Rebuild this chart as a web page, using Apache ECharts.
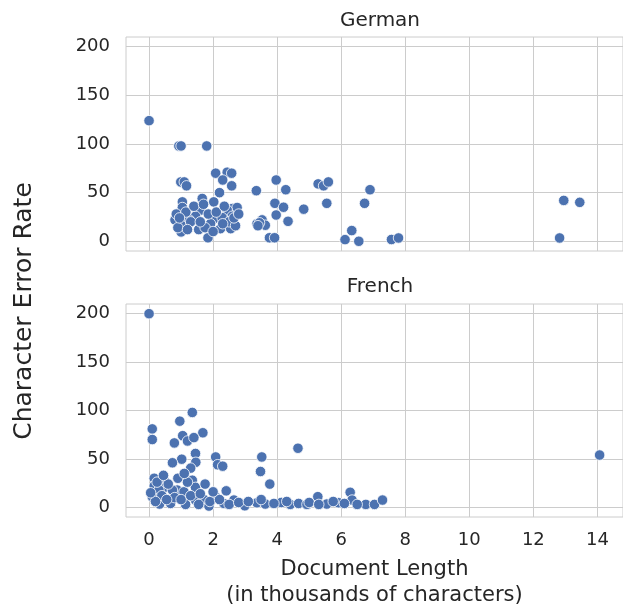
<!DOCTYPE html>
<html>
<head>
<meta charset="utf-8">
<title>Character Error Rate vs Document Length</title>
<script src="https://cdn.jsdelivr.net/npm/echarts@6.0.0/dist/echarts.min.js"></script>
<style>
    html, body { margin: 0; padding: 0; background: #ffffff; }
    #chart { width: 623px; height: 609px; }
</style>
</head>
<body>
<div id="chart"></div>
<script>
// tick labels
const xTicks = [0, 2, 4, 6, 8, 10, 12, 14];
const yTicks = [0, 50, 100, 150, 200];

// German: document length (thousands of chars) and CER
const germanLength = [
    0, 0.93, 1.0, 1.8, 2.08, 2.44, 2.58, 2.3, 2.58, 0.99, 1.1, 1.17, 2.2, 3.35, 3.97, 4.27,
    5.28, 5.45, 5.6, 6.9, 5.55, 6.73, 4.83, 3.93, 4.2, 3.97, 4.34, 3.53, 3.37, 3.63, 3.76, 3.92,
    1.84, 6.12, 6.55, 6.33, 7.57, 7.79, 12.95, 13.45, 12.82,
    1.04, 1.04, 1.66, 2.02, 1.61, 1.45, 2.02, 2.6, 2.75, 2.44, 2.6, 2.28, 0.81, 1.25, 1.0, 1.0,
    1.3, 1.92, 2.23, 2.55, 3.45, 0.85, 0.9, 1.15, 1.4, 1.7, 1.85, 2.1, 2.35, 2.5, 2.7, 1.55,
    1.75, 2.0, 1.2, 0.95, 2.65, 2.3, 1.6, 3.4, 2.8
];
const germanCER = [
    124, 98, 98, 98, 70, 71, 70, 63, 57, 61, 61, 57, 50, 52, 63, 53,
    59, 57, 61, 53, 39, 39, 33, 39, 35, 27, 20.5, 22, 18, 16.5, 3.6, 3.6,
    3.6, 1.7, 0, 11, 1.8, 3.4, 42, 40, 3.4,
    40.5, 34.7, 44, 40.5, 32, 25.7, 23, 33.6, 34.7, 32, 25.7, 24.4, 22, 22, 16.5, 9.6,
    20, 18, 13, 13, 19, 28, 14, 30, 36, 38, 28, 30, 36, 20, 16, 12,
    14, 10, 12, 24, 24, 18, 20, 16, 28
];

// French: document length (thousands of chars) and CER
const frenchLength = [
    0, 0.1, 0.1, 1.35, 0.96, 1.68, 1.05, 1.2, 1.4, 0.79, 1.45, 1.02, 0.73, 1.46, 1.3, 2.08,
    2.14, 2.3, 3.52, 3.48, 3.77, 4.65, 6.28, 6.34, 5.27, 2.41, 14.07,
    0.16, 0.47, 0.16, 0.52, 0.88, 1.35, 1.45, 1.09, 0.73, 0.31, 0.1, 0.33, 0.67, 1.14, 1.45, 1.71,
    1.87, 2.08, 2.34, 2.65, 2.99, 3.37, 3.63, 4.13, 4.41, 4.67, 4.93, 5.55, 5.92, 6.77, 7.04, 7.29,
    0.25, 0.6, 0.9, 1.2, 0.4, 0.8, 1.0, 1.3, 1.6, 1.9, 2.2, 2.5, 2.8, 3.1, 3.5, 3.9,
    4.3, 5.0, 5.3, 5.75, 6.1, 6.5, 0.2, 0.55, 1.55, 2.0, 1.75, 0.05, 0.45, 1.1
];
const frenchCER = [
    200, 81, 70, 98, 89, 77, 74, 68.5, 72, 66.5, 55.6, 49.7, 46, 46.5, 40.5, 52,
    44, 42.5, 52, 37, 24, 61, 15.5, 7.5, 11, 17, 54,
    30, 28, 22, 21, 17.8, 28, 20.6, 16, 17.8, 17.8, 11, 3.4, 4, 3, 7.5, 8.2,
    1.3, 11, 4, 7.5, 1.6, 4.7, 3.4, 5, 3, 4, 3, 3.4, 4.7, 3, 3, 7.5,
    26, 24, 30, 26, 12, 10, 8, 12, 14, 6, 8, 3, 5, 6, 8, 4,
    6, 5, 3, 6, 4, 3, 6, 8, 3, 16, 24, 15, 33, 35
];

const textColor = "#262626";
const gridColor = "#cccccc";
const pointColor = "#4C72B0";
const font = "DejaVu Sans";

function pairs(xs, ys) {
    return xs.map((x, i) => [x, ys[i]]);
}

function makeXAxis(gridIndex, showLabels) {
    return {
        type: "value",
        gridIndex: gridIndex,
        min: -0.72,
        max: 14.8,
        axisLine: { show: false },
        axisTick: { show: false, customValues: xTicks },
        axisLabel: {
            show: showLabels,
            customValues: xTicks,
            color: textColor,
            fontFamily: font,
            fontSize: 18,
            margin: 14,
        },
        splitLine: { show: true, lineStyle: { color: gridColor, width: 1 } },
        name: showLabels ? "Document Length\n(in thousands of characters)" : "",
        nameLocation: "middle",
        nameGap: 40,
        nameTextStyle: { color: textColor, fontFamily: font, fontSize: 21, lineHeight: 26 },
    };
}

function makeYAxis(gridIndex) {
    return {
        type: "value",
        gridIndex: gridIndex,
        min: -10,
        max: 210,
        axisLine: { show: false },
        axisTick: { show: false, customValues: yTicks },
        axisLabel: {
            customValues: yTicks,
            color: textColor,
            fontFamily: font,
            fontSize: 18,
            margin: 16,
        },
        splitLine: { show: true, lineStyle: { color: gridColor, width: 1 } },
    };
}

function makeSeries(name, idx, xs, ys) {
    return {
        name: name,
        type: "scatter",
        xAxisIndex: idx,
        yAxisIndex: idx,
        data: pairs(xs, ys),
        symbol: "circle",
        symbolSize: 10.5,
        itemStyle: { color: pointColor, borderColor: "#ffffff", borderWidth: 0.8, opacity: 1 },
        emphasis: { disabled: true },
    };
}

const chart = echarts.init(document.getElementById("chart"), null, { renderer: "canvas" });

const option = {
    animation: false,
    backgroundColor: "#ffffff",
    title: [
        { text: "German", left: 375, top: 6, textAlign: "center",
          textStyle: { color: textColor, fontFamily: font, fontSize: 20, fontWeight: "normal" } },
        { text: "French", left: 375, top: 272, textAlign: "center",
          textStyle: { color: textColor, fontFamily: font, fontSize: 20, fontWeight: "normal" } },
    ],
    grid: [
        { left: 126, top: 37, width: 497, height: 214, show: true, borderColor: gridColor, borderWidth: 1,
          outerBoundsMode: "none" },
        { left: 126, top: 304, width: 497, height: 213, show: true, borderColor: gridColor, borderWidth: 1,
          outerBoundsMode: "none" },
    ],
    xAxis: [makeXAxis(0, false), makeXAxis(1, true)],
    yAxis: [makeYAxis(0), makeYAxis(1)],
    graphic: [
        {
            type: "text",
            x: 24,
            y: 311,
            rotation: Math.PI / 2,
            style: {
                text: "Character Error Rate",
                fill: textColor,
                font: "25px 'DejaVu Sans'",
                textAlign: "center",
                textVerticalAlign: "middle",
            },
        },
    ],
    series: [
        makeSeries("German", 0, germanLength, germanCER),
        makeSeries("French", 1, frenchLength, frenchCER),
    ],
};

chart.setOption(option);
</script>
</body>
</html>
